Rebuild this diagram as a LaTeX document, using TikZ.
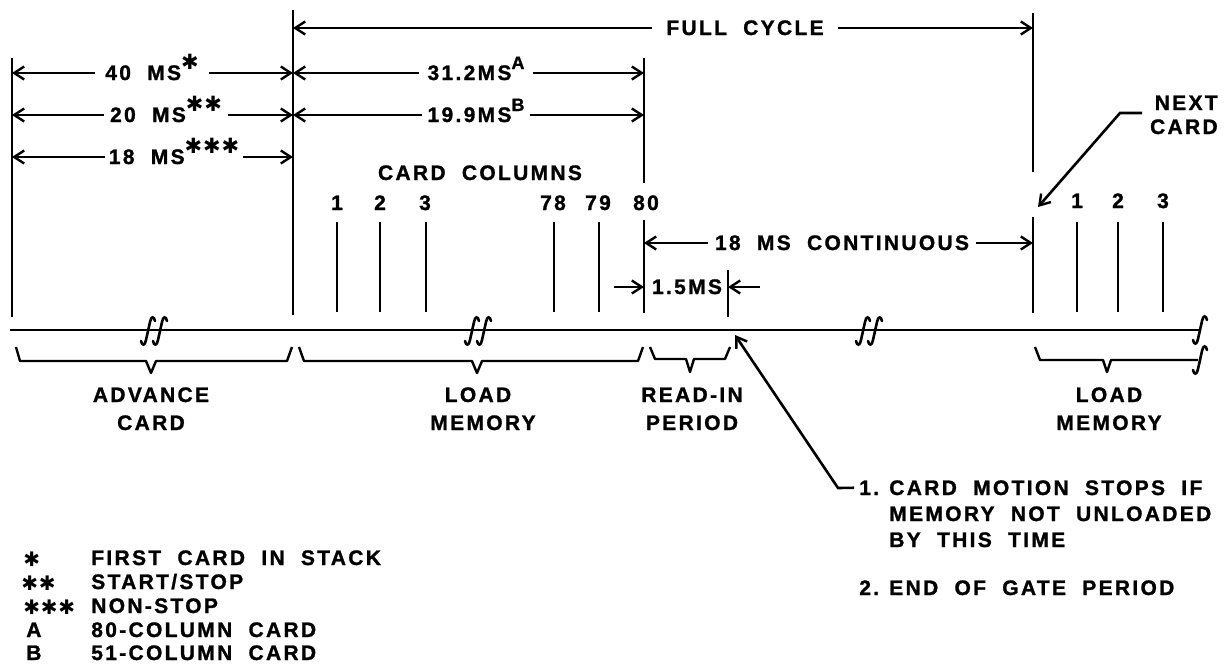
\documentclass[tikz,border=0pt]{standalone}
\usepackage{fontspec}
\setmainfont{Liberation Sans Bold}[LetterSpace=11,WordSpace=2,FakeBold=1.2]
\newfontfamily\symfam{DejaVu Sans Bold}[LetterSpace=4]
\usetikzlibrary{arrows.meta}
\newcommand\lblsize{\fontsize{21}{24}\selectfont}
\newcommand\upstar[1]{\raisebox{11pt}{\symfam\fontsize{21}{21}\selectfont #1}}
\newcommand\legstar[1]{\raisebox{-1pt}{\symfam\fontsize{20}{20}\selectfont #1}}
\newcommand\upltr[1]{\raisebox{11pt}{\fontsize{18}{18}\selectfont #1}}
\tikzset{
  brkone/.pic={\draw[line width=2.6pt,line cap=round] (-7,10) .. controls (-6,15) and (-3,15) .. (-2,9) -- (2,-9) .. controls (3,-15) and (6,-15) .. (7,-10);},
  brkmark/.pic={\draw[line width=2.6pt,line cap=round] (-13,10) .. controls (-12,15) and (-9,15) .. (-8,9) -- (-4,-9) .. controls (-3,-15) and (0,-15) .. (1,-10);
                \draw[line width=2.6pt,line cap=round] (-1,10) .. controls (0,15) and (3,15) .. (4,9) -- (8,-9) .. controls (9,-15) and (12,-15) .. (13,-10);}
}
\begin{document}
\begin{tikzpicture}[x=1pt,y=-1pt,line width=2.6pt,
  lbl/.style={font=\lblsize,inner sep=0pt,anchor=base},
  dim/.style={-{Straight Barb[length=10pt,width=13pt,line width=2.4pt]}},
  brace/.style={line width=2.4pt,line join=round}]
\useasboundingbox (0,0) rectangle (1226,667);

% vertical reference lines
\draw (12,58) -- (12,317);
\draw (293,10) -- (293,315);
\draw (644,58) -- (644,183);
\draw (644,220) -- (644,313);
\draw (1033,13) -- (1033,172);
\draw (1033,217) -- (1033,313);
\draw (728,270) -- (728,317);
\foreach \x in {337,380,426,554,599,1077,1118,1163} \draw (\x,222) -- (\x,312);

% timeline
\draw (10,330) -- (1200,330);
\pic at (154,331) {brkmark};
\pic at (478,331) {brkmark};
\pic at (869,331) {brkmark};
\pic at (1200,330) {brkone};

% FULL CYCLE
\coordinate (fcl) at (293,28); \coordinate (fcr) at (1033,28);
\node[lbl,inner xsep=13pt] (fc) at (745,35) {FULL CYCLE};
\draw[dim] (fc.west |- fcl) -- (fcl);
\draw[dim] (fc.east |- fcr) -- (fcr);

% left column dimensions
\coordinate (r1l) at (12,73);  \coordinate (r1r) at (293,73);
\coordinate (r2l) at (12,115); \coordinate (r2r) at (293,115);
\coordinate (r3l) at (12,157); \coordinate (r3r) at (293,157);
\node[lbl,inner xsep=9pt] (t40) at (152,80) {40 MS\upstar{✱}};
\node[lbl,inner xsep=5pt] (t20) at (166,122) {20 MS\upstar{✱✱}};
\node[lbl,inner xsep=3pt] (t18) at (174,164) {18 MS\upstar{✱✱✱}};
\draw[dim] (t40.west |- r1l) -- (r1l); \draw[dim] (t40.east |- r1r) -- (r1r);
\draw[dim] (t20.west |- r2l) -- (r2l); \draw[dim] (t20.east |- r2r) -- (r2r);
\draw[dim] (t18.west |- r3l) -- (r3l); \draw[dim] (t18.east |- r3r) -- (r3r);

% middle dimensions
\coordinate (m1l) at (293,73);  \coordinate (m1r) at (644,73);
\coordinate (m2l) at (293,115); \coordinate (m2r) at (644,115);
\node[lbl,inner xsep=7pt] (t31) at (476,80) {31.2MS\upltr{A}};
\node[lbl,inner xsep=4pt] (t19) at (476,122) {19.9MS\upltr{B}};
\draw[dim] (t31.west |- m1l) -- (m1l); \draw[dim] (t31.east |- m1r) -- (m1r);
\draw[dim] (t19.west |- m2l) -- (m2l); \draw[dim] (t19.east |- m2r) -- (m2r);

% card columns
\node[lbl] (cc) at (480,180) {CARD COLUMNS};
\node[lbl] (c1) at (337,210) {1};
\node[lbl] (c2) at (380,210) {2};
\node[lbl] (c3) at (425,210) {3};
\node[lbl] (c78) at (553,210) {78};
\node[lbl] (c79) at (598,210) {79};
\node[lbl] (c80) at (646,210) {80};
\node[lbl] (n1) at (1077,208) {1};
\node[lbl] (n2) at (1118,208) {2};
\node[lbl] (n3) at (1163,208) {3};

% 18 MS continuous
\coordinate (ctl) at (644,243); \coordinate (ctr) at (1033,243);
\node[lbl,inner xsep=6pt] (ct) at (842,250) {18 MS CONTINUOUS};
\draw[dim] (ct.west |- ctl) -- (ctl);
\draw[dim] (ct.east |- ctr) -- (ctr);

% 1.5 MS
\coordinate (p1a) at (614,287); \coordinate (p1b) at (644,287);
\coordinate (p2a) at (760,287); \coordinate (p2b) at (728,287);
\node[lbl] (t15) at (687,294) {1.5MS};
\draw[dim] (p1a) -- (p1b);
\draw[dim] (p2a) -- (p2b);

% braces
\draw[brace] (16,347) -- (20,361) -- (146,361) -- (151,373) -- (156,361) -- (287,361) -- (292,347);
\draw[brace] (299,347) -- (304,361) -- (472,361) -- (477,373) -- (482,361) -- (638,361) -- (643,347);
\draw[brace] (650,347) -- (655,359) -- (686,359) -- (690,372) -- (694,359) -- (725,359) -- (730,347);
\draw[brace] (1035,347) -- (1040,360) -- (1103,360) -- (1107,372) -- (1111,360) -- (1198,360);
\pic at (1200,360) {brkone};

% brace labels
\node[lbl] (adv1) at (151,402) {ADVANCE};
\node[lbl] (adv2) at (151,430) {CARD};
\node[lbl] (lm1) at (478,402) {LOAD};
\node[lbl] (lm2) at (483,430) {MEMORY};
\node[lbl] (ri1) at (692,402) {READ-IN};
\node[lbl] (ri2) at (692,430) {PERIOD};
\node[lbl] (lmb1) at (1109,402) {LOAD};
\node[lbl] (lmb2) at (1109,430) {MEMORY};

% next card
\node[lbl,anchor=base east] (nx1) at (1219,110) {NEXT};
\node[lbl,anchor=base east] (nx2) at (1219,134) {CARD};
\coordinate (nxa) at (1142,113); \coordinate (nxb) at (1120,113); \coordinate (nxt) at (1038,207);
\draw[dim] (nxa) -- (nxb) -- (nxt);

% notes
\node[lbl,anchor=base west] (nt1) at (858,495) {1.};
\node[lbl,anchor=base west] (nt1a) at (888,495) {CARD MOTION STOPS IF};
\node[lbl,anchor=base west] (nt1b) at (888,521) {MEMORY NOT UNLOADED};
\node[lbl,anchor=base west] (nt1c) at (888,547) {BY THIS TIME};
\node[lbl,anchor=base west] (nt2) at (858,595) {2.};
\node[lbl,anchor=base west] (nt2a) at (888,595) {END OF GATE PERIOD};
\coordinate (ldb) at (838,488); \coordinate (ldt) at (735,335);
\draw[dim] ([xshift=-4pt]nt1.west) -- (ldb) -- (ldt);

% legend
\node[lbl,anchor=base west] (lg1s) at (22,565) {\legstar{✱}};
\node[lbl,anchor=base west] (lg1) at (90,565) {FIRST CARD IN STACK};
\node[lbl,anchor=base west] (lg2s) at (20,589) {\legstar{✱✱}};
\node[lbl,anchor=base west] (lg2) at (90,589) {START/STOP};
\node[lbl,anchor=base west] (lg3s) at (22,613) {\legstar{✱✱✱}};
\node[lbl,anchor=base west] (lg3) at (90,613) {NON-STOP};
\node[lbl,anchor=base west] (lg4s) at (25,637) {A};
\node[lbl,anchor=base west] (lg4) at (90,637) {80-COLUMN CARD};
\node[lbl,anchor=base west] (lg5s) at (25,660) {B};
\node[lbl,anchor=base west] (lg5) at (90,660) {51-COLUMN CARD};
\end{tikzpicture}
\end{document}
